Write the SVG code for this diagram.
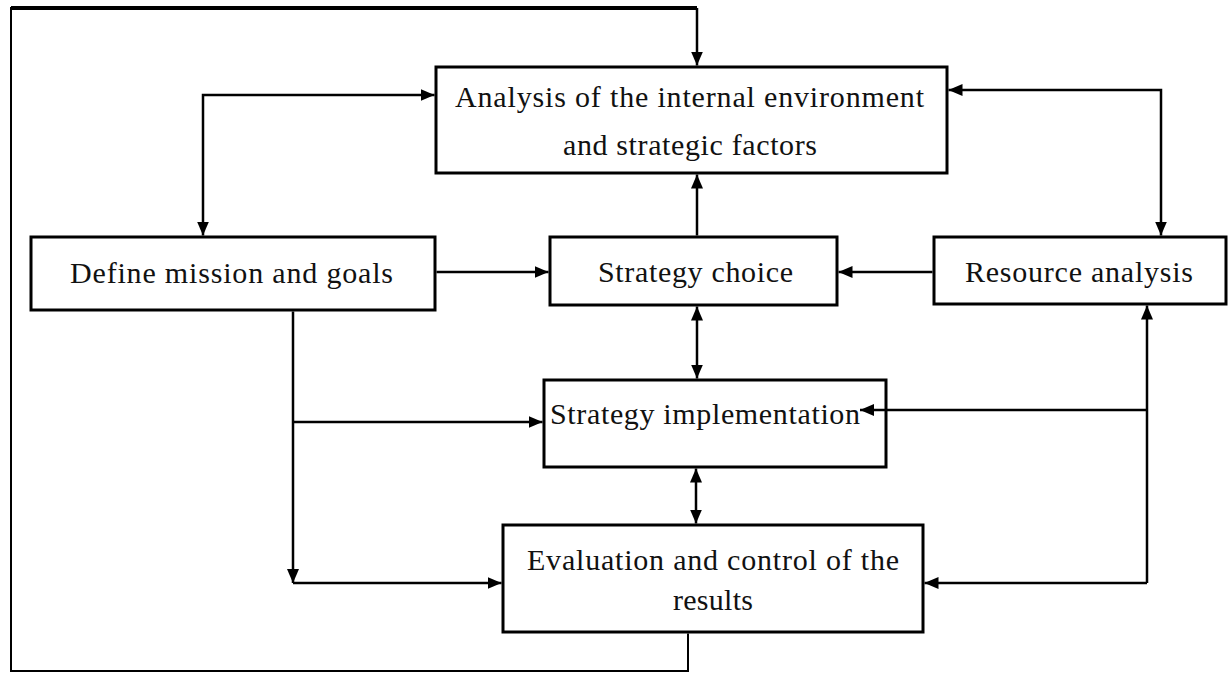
<svg xmlns="http://www.w3.org/2000/svg" width="1231" height="675" viewBox="0 0 1231 675">
<defs>
<marker id="ah" markerUnits="userSpaceOnUse" markerWidth="14" markerHeight="12" refX="14" refY="6" orient="auto-start-reverse">
<path d="M0,0 L14,6 L0,12 z" fill="#000"/>
</marker>
<style>
.box{fill:#fff;stroke:#000;stroke-width:3}
.lbl{font-family:"Liberation Serif","Times New Roman",serif;font-size:30px;fill:#111}
.c{fill:none;stroke:#000;stroke-width:2.5}
.a{marker-end:url(#ah)}
.b{marker-start:url(#ah);marker-end:url(#ah)}
</style>
</defs>
<rect width="1231" height="675" fill="#fff"/>
<g id="analysis">
<rect class="box" x="436" y="67" width="511" height="106"/>
<text class="lbl" x="455" y="107" textLength="469" lengthAdjust="spacing">Analysis of the internal environment</text>
<text class="lbl" x="563" y="155" textLength="254" lengthAdjust="spacing">and strategic factors</text>
</g>
<g id="define">
<rect class="box" x="31" y="237" width="404" height="73"/>
<text class="lbl" x="70" y="283" textLength="323" lengthAdjust="spacing">Define mission and goals</text>
</g>
<g id="choice">
<rect class="box" x="550" y="237" width="287" height="68"/>
<text class="lbl" x="598" y="282" textLength="195" lengthAdjust="spacing">Strategy choice</text>
</g>
<g id="resource">
<rect class="box" x="934" y="237" width="292" height="67"/>
<text class="lbl" x="965" y="282" textLength="228" lengthAdjust="spacing">Resource analysis</text>
</g>
<g id="implementation">
<rect class="box" x="544" y="380" width="342" height="87"/>
<text class="lbl" x="550" y="424" textLength="310" lengthAdjust="spacing">Strategy implementation</text>
</g>
<g id="evaluation">
<rect class="box" x="503" y="525" width="420" height="107"/>
<text class="lbl" x="527" y="570" textLength="372" lengthAdjust="spacing">Evaluation and control of the</text>
<text class="lbl" x="673" y="610" textLength="80" lengthAdjust="spacing">results</text>
</g>
<g id="connectors">
<path class="c" d="M688,633.5 V671 H11 V8 H697" style="stroke-width:2"/>
<path class="c" d="M11,8 H697" style="stroke-width:4"/>
<path class="c a" d="M697,8 V65.5"/>
<path class="c b" d="M434.5,95 H203 V235.5"/>
<path class="c b" d="M948.5,90 H1161 V235.5"/>
<path class="c a" d="M436.5,272 H548.5"/>
<path class="c a" d="M932.5,272 H838.5"/>
<path class="c a" d="M697,235.5 V174.5"/>
<path class="c b" d="M697,306.5 V378.5"/>
<path class="c b" d="M696,468.5 V523.5"/>
<path class="c a" d="M293,311.5 V583"/>
<path class="c a" d="M293,422 H542.5"/>
<path class="c a" d="M293,583 H501.5"/>
<path class="c a" d="M1147,583 V305.5"/>
<path class="c a" d="M1147,583 H924.5"/>
<path class="c a" d="M1147,410 H860"/>
</g>
</svg>
